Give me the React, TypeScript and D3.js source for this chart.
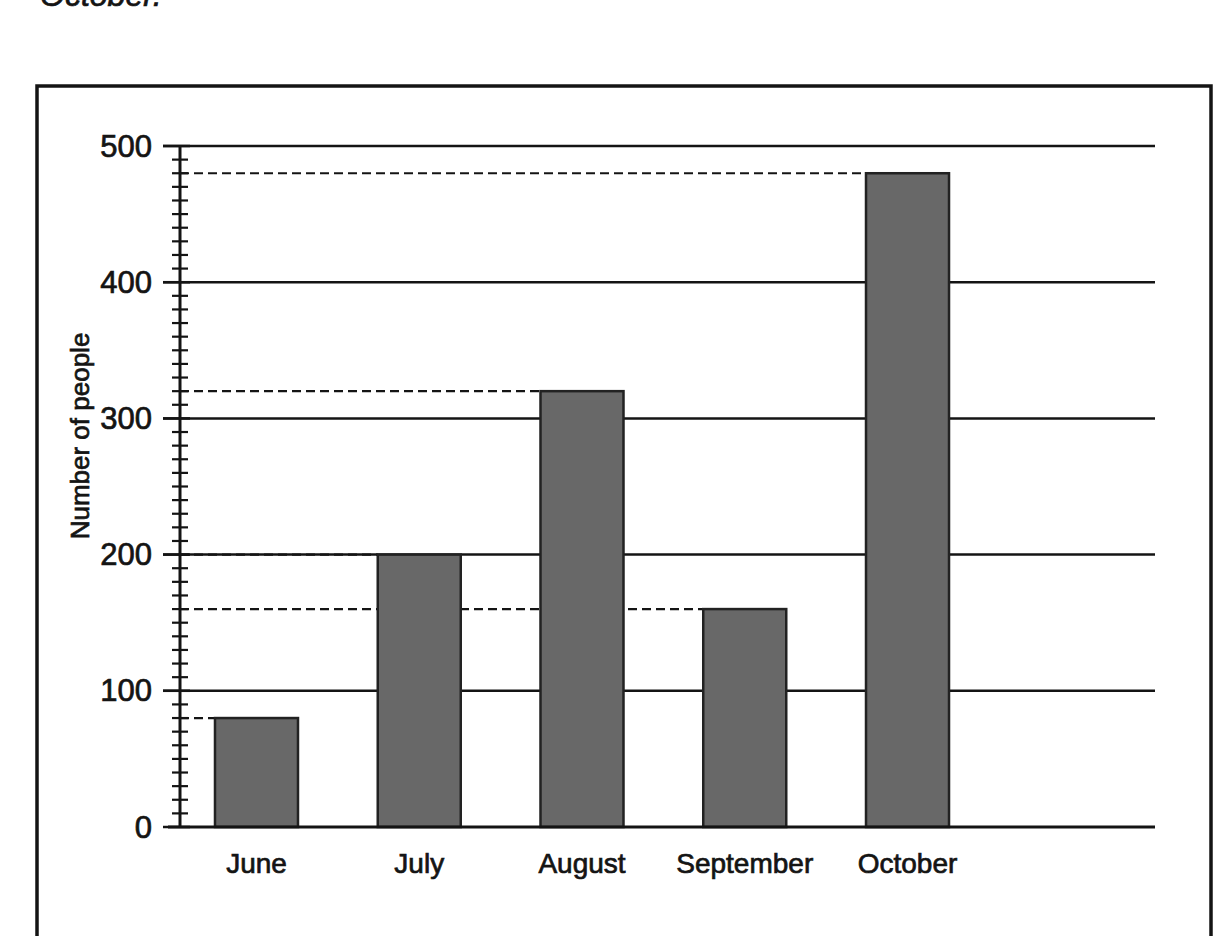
import React from "react";
import * as d3 from "d3";

const months: string[] = ["June", "July", "August", "September", "October"];
const people: number[] = [80, 200, 320, 160, 480];
const yTickLabels: number[] = [0, 100, 200, 300, 400, 500];
const yTitle = "Number of people";
const topText = "October.";

const W = 1216;
const H = 936;
const FONT = "'Liberation Sans', Arial, Helvetica, sans-serif";
const INK = "#141414";

export default function App() {
  const y = d3.scaleLinear().domain([0, 500]).range([827, 146]);
  const x = d3
    .scaleBand<string>()
    .domain(months)
    .range([180, 984])
    .paddingInner(0.49)
    .paddingOuter(0.215);

  const axisX = 180;
  const gridRight = 1155;
  const minorTicks = y.ticks(50).filter((t) => t % 100 !== 0);
  const textHeavy = { stroke: INK, strokeWidth: 0.7 };

  return (
    <svg
      width={W}
      height={H}
      viewBox={`0 0 ${W} ${H}`}
      style={{ position: "absolute", top: 0, left: 0, background: "#fff" }}
    >
      {/* caption text cropped by the top edge, as in the scan */}
      <text x={40} y={6} fontFamily={FONT} fontSize={32} fill={INK} fontStyle="italic" {...textHeavy}>
        {topText}
      </text>

      {/* outer frame */}
      <rect x={37} y={86} width={1174} height={900} fill="none" stroke={INK} strokeWidth={3.5} />

      {/* gridlines */}
      {yTickLabels
        .filter((t) => t > 0)
        .map((t) => (
          <line key={"g" + t} x1={163} x2={gridRight} y1={y(t)} y2={y(t)} stroke={INK} strokeWidth={2.5} />
        ))}

      {/* dashed reference lines */}
      {months.map((m, i) => (
        <line
          key={"d" + m}
          x1={axisX}
          x2={x(m)!}
          y1={y(people[i])}
          y2={y(people[i])}
          stroke={INK}
          strokeWidth={2.2}
          strokeDasharray="9,5"
        />
      ))}

      {/* bars */}
      {months.map((m, i) => (
        <rect
          key={"b" + m}
          x={x(m)!}
          y={y(people[i])}
          width={x.bandwidth()}
          height={y(0) - y(people[i])}
          fill="#686868"
          stroke="#222"
          strokeWidth={2.5}
        />
      ))}

      {/* x axis */}
      <line x1={168} x2={gridRight} y1={y(0)} y2={y(0)} stroke={INK} strokeWidth={3} />

      {/* y axis */}
      <line x1={axisX} x2={axisX} y1={y(500)} y2={y(0)} stroke={INK} strokeWidth={3} />
      {minorTicks.map((t) => (
        <line key={"m" + t} x1={172} x2={188} y1={y(t)} y2={y(t)} stroke={INK} strokeWidth={2.2} />
      ))}
      {yTickLabels.map((t) => (
        <g key={"t" + t}>
          <line x1={163} x2={190} y1={y(t)} y2={y(t)} stroke={INK} strokeWidth={2.5} />
          <text
            x={152}
            y={y(t)}
            textAnchor="end"
            dominantBaseline="central"
            fontFamily={FONT}
            fontSize={31}
            fill={INK}
            {...textHeavy}
          >
            {t}
          </text>
        </g>
      ))}

      {/* x category labels */}
      {months.map((m) => (
        <text
          key={"l" + m}
          x={x(m)! + x.bandwidth() / 2}
          y={873}
          textAnchor="middle"
          fontFamily={FONT}
          fontSize={28}
          fill={INK}
          {...textHeavy}
        >
          {m}
        </text>
      ))}

      {/* y axis title */}
      <text
        transform="translate(89,436) rotate(-90)"
        textAnchor="middle"
        fontFamily={FONT}
        fontSize={26}
        fill={INK}
        {...textHeavy}
      >
        {yTitle}
      </text>
    </svg>
  );
}
